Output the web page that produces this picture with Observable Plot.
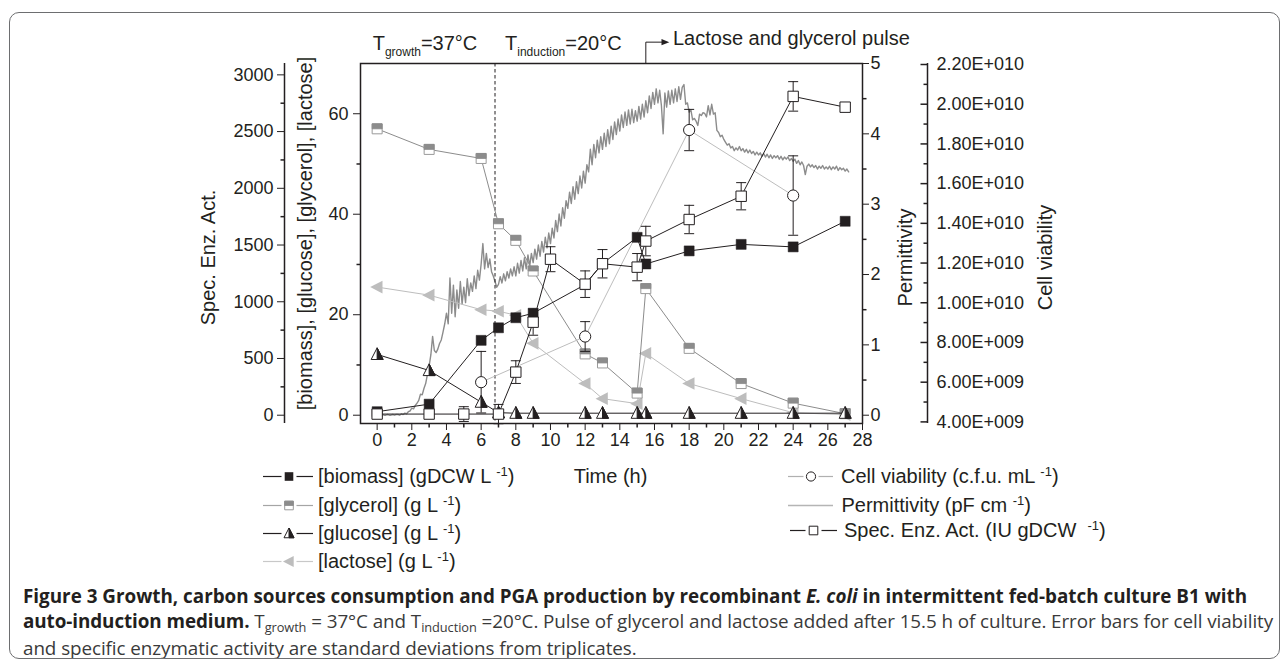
<!DOCTYPE html>
<html><head><meta charset="utf-8">
<script src="https://cdn.jsdelivr.net/npm/d3@7"></script>
<script src="https://cdn.jsdelivr.net/npm/@observablehq/plot@0.6"></script>
<style>
html,body{margin:0;padding:0;background:#fff;overflow:hidden;}
#fig{position:relative;width:1282px;height:667px;font-family:'Liberation Sans',Arial,sans-serif;color:#231f20;}
#fig > svg{position:absolute;left:0;top:0;}
.abs{position:absolute;white-space:nowrap;}
.ann{font-size:20px;line-height:20px;}
.ann .sb{font-size:12px;position:relative;top:6px;}
.lg{font-size:20px;line-height:20px;}
.lg .sp{font-size:13px;position:relative;top:-7px;}
#border{position:absolute;left:9px;top:12px;width:1271px;height:647px;box-sizing:border-box;border:1.3px solid #6d6e70;border-radius:10px;pointer-events:none;}
#caption{position:absolute;left:23px;top:584px;font-family:'Open Sans',sans-serif;font-size:15px;line-height:25px;color:#3a3a3a;white-space:nowrap;}
#caption b{color:#231f20;}
#caption .cs{font-size:0.68em;position:relative;top:0.3em;}
</style></head><body><div id="fig"></div>
<script>
// ---------------- data ----------------
const xDomain = [-0.96, 28];            // Time (h)
const yDomain = [-1.65, 70];            // [biomass], [glucose], [glycerol], [lactose]
const specTop = 3100;                   // Spec. Enz. Act. value at top of the frame
const permTop = 5;                      // Permittivity value at top of the frame
const viabDomain = [4e9, 2.2e10];       // Cell viability axis range
const viabOnLeft = [-1.33, 69.8];       // the same range on the left axis

const xTicks = [0,2,4,6,8,10,12,14,16,18,20,22,24,26,28];
const xMinorTicks = [1,3,5,7,9,11,13,15,17,19,21,23,25,27];
const concTicks = [0,20,40,60];
const concMinorTicks = [10,30,50];
const specTicks = [0,500,1000,1500,2000,2500,3000];
const specMinorTicks = [250,750,1250,1750,2250,2750];
const permTicks = [0,1,2,3,4,5];
const permMinorTicks = [0.5,1.5,2.5,3.5,4.5];
const viabTicks = [4e9,6e9,8e9,1e10,1.2e10,1.4e10,1.6e10,1.8e10,2e10,2.2e10];
const viabMinorTicks = [5e9,7e9,9e9,1.1e10,1.3e10,1.5e10,1.7e10,1.9e10,2.1e10];

const inductionTime = [6.8];
const pulseTime = 15.5;

const sampleTimes = [0,3,6,7,8,9,12,13,15,15.5,18,21,24,27];
const biomass  = [0.7,2.2,14.9,17.4,19.4,20.3,26.0,30.2,35.4,30.1,32.7,34.0,33.5,38.6];
const glycerol = [57.0,52.9,51.1,38.1,34.8,28.7,12.2,10.4,4.4,25.2,13.3,6.3,2.4,0.3];
const glucose  = [12.1,8.9,2.6,0.5,0.4,0.4,0.4,0.4,0.4,0.4,0.4,0.4,0.4,0.4];
const lactose  = [25.5,23.9,21.0,20.7,19.9,14.3,6.3,3.3,2.3,12.3,6.3,3.3,0.5,0.1];

const specTimes = [0,3,5,7,8,9,10,12,13,15,15.5,18,21,24,27];
const specAct   = [10,10,10,10,380,820,1375,1155,1335,1305,1535,1725,1930,2810,2715];
const specErr   = [0,0,65,85,100,115,110,117,125,120,130,125,120,130,0];

const viabTimes = [6,12,18,24];
const viab      = [6.0e9,8.3e9,1.87e10,1.54e10];
const viabErr   = [1.55e9,0.75e9,1.04e9,2.0e9];

const permStart = 0, permStep = 0.1;   // on-line probe, one reading every 0.1 h
const permValues = [
0.00,0.00,0.00,0.01,0.00,0.00,0.01,0.00,0.00,0.01,
0.00,0.01,0.01,0.00,0.02,0.01,0.03,0.02,0.05,0.06,
0.10,0.09,0.14,0.17,0.21,0.30,0.29,0.38,0.45,0.58,
0.70,0.86,1.12,0.92,0.89,0.94,1.02,1.07,1.18,1.30,
1.45,1.30,1.95,1.45,1.85,1.40,1.78,1.52,1.90,1.58,
1.82,1.60,1.94,1.70,1.88,1.76,1.98,1.80,2.06,1.92,
2.15,2.44,2.08,2.30,2.10,2.22,2.04,1.98,1.90,1.82,
1.86,1.97,1.88,2.01,1.91,2.04,1.95,2.08,1.98,2.11,
1.98,2.16,2.02,2.20,2.05,2.24,2.08,2.28,2.12,2.30,
2.17,2.36,2.22,2.42,2.26,2.47,2.32,2.53,2.38,2.59,
2.44,2.66,2.52,2.77,2.61,2.86,2.69,2.95,2.80,3.05,
2.94,3.17,3.01,3.25,3.07,3.32,3.15,3.40,3.23,3.47,
3.30,3.56,3.46,3.78,3.56,3.85,3.66,3.91,3.73,3.96,
3.78,4.01,3.82,4.06,3.86,4.11,3.92,4.17,3.99,4.21,
4.04,4.27,4.09,4.31,4.12,4.34,4.14,4.35,4.16,4.33,
4.18,4.39,4.21,4.42,4.24,4.47,4.30,4.54,4.36,4.59,
4.42,4.64,4.44,4.62,4.40,4.00,4.58,4.38,4.61,4.42,
4.62,4.44,4.64,4.46,4.67,4.49,4.66,4.70,4.42,4.44,
4.31,4.34,4.20,4.22,4.18,4.12,4.28,4.26,4.30,4.29,
4.24,4.40,4.27,4.42,4.28,4.30,4.05,4.02,3.96,3.98,
3.92,3.88,3.84,3.86,3.80,3.82,3.76,3.80,3.77,3.82,
3.76,3.79,3.74,3.78,3.73,3.77,3.72,3.75,3.70,3.74,
3.70,3.73,3.68,3.72,3.67,3.71,3.66,3.70,3.65,3.69,
3.66,3.69,3.64,3.68,3.63,3.67,3.64,3.67,3.62,3.65,
3.61,3.64,3.58,3.62,3.56,3.60,3.55,3.42,3.54,3.57,
3.53,3.56,3.52,3.55,3.50,3.54,3.51,3.55,3.50,3.53,
3.50,3.54,3.49,3.53,3.50,3.54,3.48,3.52,3.49,3.51,
3.47,3.50,3.46];

const legendLeftLabels = ["[biomass] (gDCW L", "[glycerol] (g L", "[glucose] (g L", "[lactose] (g L"];
const legendRightLabels = ["Cell viability (c.f.u. mL", "Permittivity (pF cm", "Spec. Enz. Act. (IU gDCW&nbsp;"];

// ---------------- conversions to the shared (left) y scale ----------------
const specToC = s => s * yDomain[1] / specTop;
const cToSpec = c => c * specTop / yDomain[1];
const permToC = p => p * yDomain[1] / permTop;
const cToPerm = c => c * permTop / yDomain[1];
const viabToC = v => viabOnLeft[0] + (v - viabDomain[0]) / (viabDomain[1] - viabDomain[0]) * (viabOnLeft[1] - viabOnLeft[0]);
const cToViab = c => viabDomain[0] + (c - viabOnLeft[0]) / (viabOnLeft[1] - viabOnLeft[0]) * (viabDomain[1] - viabDomain[0]);
const fmtE = v => { v = Math.round(v / 1e8) * 1e8; const e = Math.floor(Math.log10(v) + 1e-9); return (v / 10 ** e).toFixed(2) + "E+" + String(e).padStart(3, "0"); };

const samples = sampleTimes.map((t, i) => ({t, biomass: biomass[i], glycerol: glycerol[i], glucose: glucose[i], lactose: lactose[i]}));
const spec = specTimes.map((t, i) => ({t, c: specToC(specAct[i]), lo: specToC(specAct[i] - specErr[i]), hi: specToC(specAct[i] + specErr[i]), err: specErr[i]}));
const specE = spec.filter(d => d.err > 0);
const via = viabTimes.map((t, i) => ({t, c: viabToC(viab[i]), lo: viabToC(viab[i] - viabErr[i]), hi: viabToC(viab[i] + viabErr[i])}));
const perm = permValues.map((p, i) => ({t: permStart + i * permStep, c: permToC(p)}));
const arrowY = yDomain[1] + 4.25;
const pulseArrow = [{t: pulseTime, c: yDomain[1]}, {t: pulseTime, c: arrowY}, {t: pulseTime + 0.95, c: arrowY}];
const pulseHead = [{t: pulseTime + 1.1, c: arrowY}];

// ---------------- symbols ----------------
const sym = f => ({draw(ctx, size) { f(ctx, Math.sqrt(size / Math.PI)); }});
const sqSym = sym((c, r) => { c.moveTo(-r, -r); c.lineTo(r, -r); c.lineTo(r, r); c.lineTo(-r, r); c.closePath(); });
const sqTopSym = sym((c, r) => { c.moveTo(-r, -r); c.lineTo(r, -r); c.lineTo(r, 0); c.lineTo(-r, 0); c.closePath(); });
const triUpSym = sym((c, r) => { c.moveTo(0, -r * 1.1); c.lineTo(r, r * 0.85); c.lineTo(-r, r * 0.85); c.closePath(); });
const triUpRSym = sym((c, r) => { c.moveTo(0, -r * 1.1); c.lineTo(r, r * 0.85); c.lineTo(0, r * 0.85); c.closePath(); });
const triLeftSym = sym((c, r) => { c.moveTo(-r * 1.1, 0); c.lineTo(r * 0.85, -r); c.lineTo(r * 0.85, r); c.closePath(); });
const triRightSym = sym((c, r) => { c.moveTo(r * 1.1, 0); c.lineTo(-r * 0.85, -r * 0.8); c.lineTo(-r * 0.85, r * 0.8); c.closePath(); });
const capSym = sym((c, r) => { c.moveTo(-r, 0); c.lineTo(r, 0); });
const tickLSym = sym((c, r) => { c.moveTo(-r, 0); c.lineTo(0, 0); });
const tickRSym = sym((c, r) => { c.moveTo(0, 0); c.lineTo(r, 0); });
const tickDSym = sym((c, r) => { c.moveTo(0, 0); c.lineTo(0, r); });

const INK = "#231f20", GRAY = "#8c8c8c", LIGHT = "#bdbdbd";
const FONT = "'Liberation Sans', Arial, sans-serif";
const specDx = -76, viabDx = 65;

const chart = Plot.plot({
  width: 1282, height: 490,
  marginLeft: 360, marginRight: 420, marginTop: 63, marginBottom: 67,
  x: {domain: xDomain, axis: null},
  y: {domain: yDomain, axis: null},
  style: {fontFamily: FONT, fontSize: "18px", color: INK, background: "transparent", overflow: "visible"},
  marks: [
    // permittivity trace
    Plot.line(perm, {x: "t", y: "c", stroke: GRAY, strokeWidth: 1.4}),
    // induction and pulse annotations
    Plot.ruleX(inductionTime, {stroke: INK, strokeWidth: 1, strokeDasharray: "3.5,2.5"}),
    Plot.line(pulseArrow, {x: "t", y: "c", stroke: INK, strokeWidth: 1}),
    Plot.dot(pulseHead, {x: "t", y: "c", symbol: triRightSym, r: 4, fill: INK, stroke: "none"}),
    // lactose
    Plot.line(samples, {x: "t", y: "lactose", stroke: LIGHT, strokeWidth: 1}),
    Plot.dot(samples, {x: "t", y: "lactose", symbol: triLeftSym, r: 6.3, fill: LIGHT, stroke: "none"}),
    // glycerol
    Plot.line(samples, {x: "t", y: "glycerol", stroke: GRAY, strokeWidth: 1}),
    Plot.dot(samples, {x: "t", y: "glycerol", symbol: sqSym, r: 5, fill: "white", stroke: "#9a9a9a", strokeWidth: 1}),
    Plot.dot(samples, {x: "t", y: "glycerol", symbol: sqTopSym, r: 5, fill: GRAY, stroke: "#8a8a8a", strokeWidth: 0.8}),
    // cell viability line
    Plot.line(via, {x: "t", y: "c", stroke: LIGHT, strokeWidth: 1}),
    // glucose
    Plot.line(samples, {x: "t", y: "glucose", stroke: INK, strokeWidth: 1}),
    Plot.dot(samples, {x: "t", y: "glucose", symbol: triUpSym, r: 6, fill: "white", stroke: INK, strokeWidth: 1}),
    Plot.dot(samples, {x: "t", y: "glucose", symbol: triUpRSym, r: 6, fill: INK, stroke: INK, strokeWidth: 1}),
    // biomass
    Plot.line(samples, {x: "t", y: "biomass", stroke: INK, strokeWidth: 1}),
    Plot.dot(samples, {x: "t", y: "biomass", symbol: sqSym, r: 5, fill: INK, stroke: INK, strokeWidth: 0.5}),
    // specific enzymatic activity
    Plot.line(spec, {x: "t", y: "c", stroke: INK, strokeWidth: 1}),
    Plot.ruleX(specE, {x: "t", y1: "lo", y2: "hi", stroke: INK, strokeWidth: 1}),
    Plot.dot(specE, {x: "t", y: "hi", symbol: capSym, r: 5, fill: "none", stroke: INK, strokeWidth: 1}),
    Plot.dot(specE, {x: "t", y: "lo", symbol: capSym, r: 5, fill: "none", stroke: INK, strokeWidth: 1}),
    Plot.dot(spec, {x: "t", y: "c", symbol: sqSym, r: 5.2, fill: "white", stroke: INK, strokeWidth: 1}),
    // cell viability points
    Plot.ruleX(via, {x: "t", y1: "lo", y2: "hi", stroke: INK, strokeWidth: 1}),
    Plot.dot(via, {x: "t", y: "hi", symbol: capSym, r: 5, fill: "none", stroke: INK, strokeWidth: 1}),
    Plot.dot(via, {x: "t", y: "lo", symbol: capSym, r: 5, fill: "none", stroke: INK, strokeWidth: 1}),
    Plot.dot(via, {x: "t", y: "c", r: 5.6, fill: "white", stroke: INK, strokeWidth: 1}),
    // frame
    Plot.frame({stroke: INK, strokeWidth: 1.5}),
    // x axis
    Plot.axisX(xTicks, {anchor: "bottom", tickSize: 7, tickPadding: 3, label: null}),
    Plot.dot(xMinorTicks, {x: d => d, frameAnchor: "bottom", symbol: tickDSym, r: 4, fill: "none", stroke: INK}),
    // left concentration axis
    Plot.axisY(concTicks, {anchor: "left", tickSize: 7, tickPadding: 5, label: null}),
    Plot.dot(concMinorTicks, {y: d => d, frameAnchor: "left", symbol: tickLSym, r: 4, fill: "none", stroke: INK}),
    // Spec. Enz. Act. axis (offset to the left)
    Plot.ruleX([xDomain[0]], {dx: specDx, stroke: INK, strokeWidth: 1.5}),
    Plot.axisY(specTicks.map(specToC), {anchor: "left", dx: specDx, tickSize: 7, tickPadding: 4, label: null,
      tickFormat: c => String(Math.round(cToSpec(c)))}),
    Plot.dot(specMinorTicks.map(specToC), {y: d => d, frameAnchor: "left", dx: specDx, symbol: tickLSym, r: 4, fill: "none", stroke: INK}),
    // Permittivity axis (frame right)
    Plot.axisY(permTicks.map(permToC), {anchor: "right", tickSize: 6, tickPadding: 2, label: null,
      tickFormat: c => String(Math.round(cToPerm(c)))}),
    Plot.dot(permMinorTicks.map(permToC), {y: d => d, frameAnchor: "right", symbol: tickRSym, r: 4, fill: "none", stroke: INK}),
    // Cell viability axis (offset to the right)
    Plot.ruleX([xDomain[1]], {dx: viabDx, stroke: INK, strokeWidth: 1.5}),
    Plot.axisY(viabTicks.map(viabToC), {anchor: "right", dx: viabDx, tickSize: 0, tickPadding: 9, label: null,
      tickFormat: c => fmtE(cToViab(c))}),
    Plot.dot(viabTicks.map(viabToC), {y: d => d, frameAnchor: "right", dx: viabDx, symbol: tickLSym, r: 7, fill: "none", stroke: INK}),
    Plot.dot(viabMinorTicks.map(viabToC), {y: d => d, frameAnchor: "right", dx: viabDx, symbol: tickLSym, r: 4, fill: "none", stroke: INK}),
    // axis titles
    Plot.text(["Spec. Enz. Act."], {text: d => d, frameAnchor: "left", textAnchor: "middle", lineAnchor: "middle", rotate: -90, dx: -152, dy: 14, fontSize: 20, fill: INK}),
    Plot.text(["[biomass], [glucose], [glycerol], [lactose]"], {text: d => d, frameAnchor: "left", textAnchor: "middle", lineAnchor: "middle", rotate: -90, dx: -55, dy: -10, fontSize: 20, fill: INK}),
    Plot.text(["Permittivity"], {text: d => d, frameAnchor: "right", textAnchor: "middle", lineAnchor: "middle", rotate: -90, dx: 43, dy: 14, fontSize: 20, fill: INK}),
    Plot.text(["Cell viability"], {text: d => d, frameAnchor: "right", textAnchor: "middle", lineAnchor: "middle", rotate: -90, dx: 183, dy: 14, fontSize: 20, fill: INK}),
    Plot.text(["Time (h)"], {text: d => d, frameAnchor: "bottom", textAnchor: "middle", lineAnchor: "middle", dy: 53, dx: -1, fontSize: 20, fill: INK})
  ]
});

const fig = document.getElementById("fig");
fig.appendChild(chart);

function addDiv(cls, x, top, html) {
  const d = document.createElement("div");
  d.className = "abs " + cls;
  d.style.left = x + "px"; d.style.top = top + "px";
  d.innerHTML = html;
  fig.appendChild(d);
  return d;
}
// annotations above the frame
addDiv("ann", 372.7, 33, 'T<span class="sb">growth</span>=37°C');
addDiv("ann", 505, 33, 'T<span class="sb">induction</span>=20°C');
addDiv("ann", 673, 28, 'Lactose and glycerol pulse');

// legend
function swatch(x, yc, w, mid, gap, line, parts, full) {
  const s = d3.create("svg").attr("width", w).attr("height", 20)
    .style("position", "absolute").style("left", x + "px").style("top", (yc - 10) + "px").style("overflow", "visible");
  if (full) {
    s.append("line").attr("x1", 0).attr("x2", w).attr("y1", 10.5).attr("y2", 10.5).attr("stroke", line).attr("stroke-width", 1.3);
  } else {
    s.append("line").attr("x1", 0).attr("x2", mid - gap).attr("y1", 10.5).attr("y2", 10.5).attr("stroke", line).attr("stroke-width", 1.2);
    s.append("line").attr("x1", mid + gap).attr("x2", w).attr("y1", 10.5).attr("y2", 10.5).attr("stroke", line).attr("stroke-width", 1.2);
  }
  for (const p of parts) {
    s.append("path").attr("transform", `translate(${mid},10.5)`)
      .attr("d", d3.symbol(p.sym, Math.PI * p.r * p.r)())
      .attr("fill", p.fill).attr("stroke", p.stroke || "none").attr("stroke-width", p.sw || 1);
  }
  fig.appendChild(s.node());
}
const leftRows = [476, 504.5, 533, 561];
const leftParts = [
  {line: INK, parts: [{sym: sqSym, r: 4.3, fill: INK}]},
  {line: "#a5a5a5", parts: [{sym: sqSym, r: 4.3, fill: "white", stroke: "#9a9a9a"}, {sym: sqTopSym, r: 4.3, fill: GRAY, stroke: "#8a8a8a", sw: 0.8}]},
  {line: INK, parts: [{sym: triUpSym, r: 5, fill: "white", stroke: INK}, {sym: triUpRSym, r: 5, fill: INK, stroke: INK}]},
  {line: "#c8c8c8", parts: [{sym: triLeftSym, r: 5.5, fill: LIGHT}]}
];
leftRows.forEach((y, i) => {
  swatch(263, y, 50, 26, 7.5, leftParts[i].line, leftParts[i].parts, false);
  addDiv("lg", 318, y - 10, legendLeftLabels[i] + ' <span class="sp">-1</span>)');
});
const rightRows = [476, 505, 530];
swatch(788, rightRows[0], 45, 23, 7.5, "#b0b0b0", [{sym: d3.symbolCircle, r: 4.6, fill: "white", stroke: INK}], false);
addDiv("lg", 841, rightRows[0] - 10, legendRightLabels[0] + ' <span class="sp">-1</span>)');
swatch(788, rightRows[1], 45, 23, 0, "#b5b5b5", [], true);
addDiv("lg", 841.5, rightRows[1] - 10, legendRightLabels[1] + ' <span class="sp">-1</span>)');
swatch(790, rightRows[2], 47, 23.5, 8, INK, [{sym: sqSym, r: 4.3, fill: "white", stroke: INK}], false);
addDiv("lg", 844, rightRows[2] - 10, legendRightLabels[2] + ' <span class="sp">-1</span>)');

// caption
const cap = document.createElement("div");
cap.id = "caption";
cap.innerHTML =
  '<span id="cap1"><b>Figure 3 Growth, carbon sources consumption and PGA production by recombinant <i>E. coli</i> in intermittent fed-batch culture B1 with</b></span><br>' +
  '<span id="cap2"><b>auto-induction medium.</b> T<span class="cs">growth</span> = 37°C and T<span class="cs">induction</span> =20°C. Pulse of glycerol and lactose added after 15.5 h of culture. Error bars for cell viability</span><br>' +
  '<span id="cap3">and specific enzymatic activity are standard deviations from triplicates.</span>';
fig.appendChild(cap);
const w1 = document.getElementById("cap1").getBoundingClientRect().width;
cap.style.fontSize = (15 * 1225 / w1).toFixed(2) + "px";
const cap2 = document.getElementById("cap2"), cap3 = document.getElementById("cap3");
const w2 = cap2.getBoundingClientRect().width;
const ls = (1250 - w2) / cap2.textContent.length;
cap2.style.letterSpacing = ls.toFixed(3) + "px";
cap3.style.letterSpacing = ls.toFixed(3) + "px";

const border = document.createElement("div");
border.id = "border";
fig.appendChild(border);
</script>
</body></html>
